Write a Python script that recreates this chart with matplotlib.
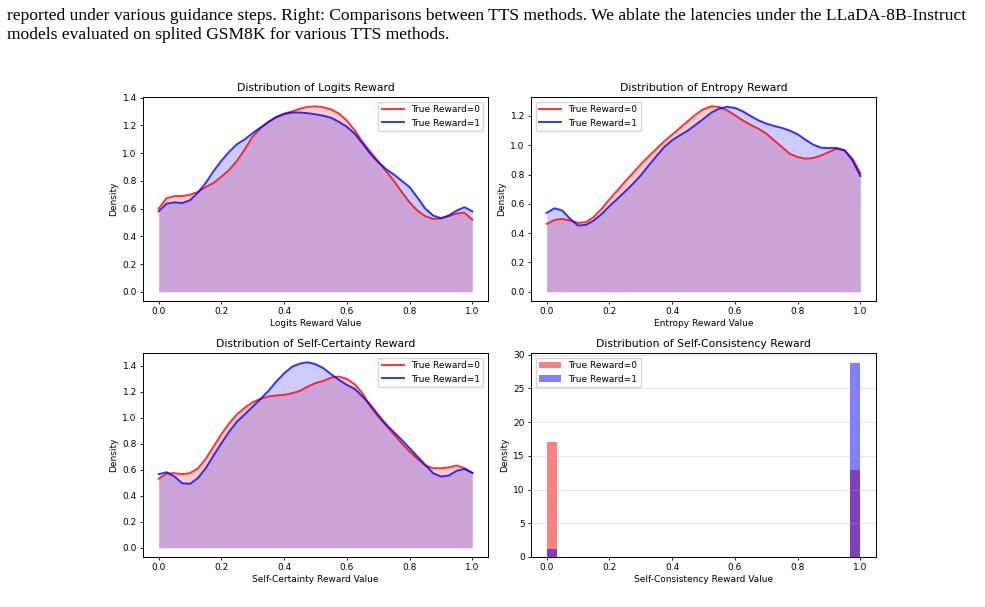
import numpy as np
import matplotlib.pyplot as plt

# reward values the densities were read at (step 0.025)
x_vals = [i / 40 for i in range(41)]

# Logits reward
logits_r0 = [0.60, 0.675, 0.69, 0.69, 0.70, 0.72, 0.755, 0.785, 0.83, 0.88,
             0.945, 1.03, 1.12, 1.18, 1.225, 1.26, 1.285, 1.30, 1.32, 1.333,
             1.338, 1.33, 1.315, 1.285, 1.235, 1.165, 1.08, 1.01, 0.94, 0.87,
             0.80, 0.72, 0.645, 0.585, 0.545, 0.525, 0.53, 0.545, 0.565, 0.57, 0.52]
logits_r1 = [0.58, 0.635, 0.645, 0.64, 0.66, 0.715, 0.785, 0.87, 0.945, 1.01,
             1.065, 1.10, 1.145, 1.185, 1.225, 1.26, 1.282, 1.293, 1.293, 1.288,
             1.28, 1.27, 1.255, 1.225, 1.19, 1.14, 1.07, 0.995, 0.935, 0.885,
             0.845, 0.80, 0.755, 0.68, 0.60, 0.55, 0.53, 0.55, 0.585, 0.61, 0.58]

# Entropy reward
entropy_r0 = [0.463, 0.49, 0.497, 0.486, 0.47, 0.475, 0.51, 0.566, 0.63, 0.69,
              0.753, 0.81, 0.87, 0.924, 0.976, 1.027, 1.072, 1.118, 1.164, 1.21,
              1.246, 1.266, 1.262, 1.239, 1.205, 1.17, 1.14, 1.113, 1.08, 1.034,
              0.988, 0.942, 0.92, 0.908, 0.913, 0.93, 0.954, 0.976, 0.965, 0.908, 0.81]
entropy_r1 = [0.538, 0.57, 0.554, 0.497, 0.452, 0.456, 0.486, 0.53, 0.584, 0.634,
              0.684, 0.737, 0.794, 0.862, 0.926, 0.988, 1.034, 1.068, 1.10, 1.14,
              1.18, 1.223, 1.25, 1.262, 1.255, 1.232, 1.20, 1.17, 1.148, 1.132,
              1.118, 1.10, 1.075, 1.038, 1.004, 0.983, 0.981, 0.981, 0.965, 0.897, 0.79]

# Self-certainty reward
certainty_r0 = [0.53, 0.57, 0.573, 0.565, 0.573, 0.61, 0.683, 0.778, 0.872, 0.957,
                1.026, 1.077, 1.118, 1.144, 1.162, 1.17, 1.175, 1.187, 1.205, 1.238,
                1.265, 1.282, 1.307, 1.315, 1.297, 1.256, 1.187, 1.085, 1.008, 0.939,
                0.872, 0.803, 0.739, 0.683, 0.632, 0.611, 0.611, 0.617, 0.632, 0.611, 0.575]
certainty_r1 = [0.565, 0.58, 0.548, 0.496, 0.491, 0.535, 0.611, 0.709, 0.803, 0.893,
                0.97, 1.026, 1.085, 1.144, 1.205, 1.277, 1.34, 1.39, 1.415, 1.425,
                1.41, 1.38, 1.333, 1.29, 1.251, 1.221, 1.162, 1.098, 1.021, 0.949,
                0.888, 0.829, 0.765, 0.701, 0.637, 0.573, 0.547, 0.555, 0.591, 0.606, 0.575]

# Self-consistency reward: share of samples at 0 and at 1
consistency_vals = [0.0, 1.0]
consistency_r0 = [0.57, 0.43]
consistency_r1 = [0.04, 0.96]

caption = ["reported under various guidance steps. Right: Comparisons between TTS methods. "
           "We ablate the latencies under the LLaDA-8B-Instruct",
           "models evaluated on splited GSM8K for various TTS methods."]

fs = 6.5
fig = plt.figure(figsize=(9.85, 6.07), dpi=100)

fig.text(7 / 985, 1 - 20 / 607, caption[0], family="Liberation Serif", fontsize=12.6)
fig.text(7 / 985, 1 - 39 / 607, caption[1], family="Liberation Serif", fontsize=12.6)

w, h = 345 / 985, 204 / 607
ax_tl = fig.add_axes([143 / 985, 306 / 607, w, h])
ax_tr = fig.add_axes([531 / 985, 306 / 607, w, h])
ax_bl = fig.add_axes([143 / 985, 50 / 607, w, h])
ax_br = fig.add_axes([531 / 985, 50 / 607, w, h])


def kde_panel(ax, y0, y1, name, loc):
    ax.plot(x_vals, y0, color="red", alpha=0.8, lw=1.4, label="True Reward=0")
    ax.fill_between(x_vals, y0, color="red", alpha=0.2, lw=0)
    ax.plot(x_vals, y1, color="blue", alpha=0.8, lw=1.4, label="True Reward=1")
    ax.fill_between(x_vals, y1, color="blue", alpha=0.2, lw=0)
    ax.set_title(f"Distribution of {name} Reward", fontsize=fs * 1.2, pad=4)
    ax.set_xlabel(f"{name} Reward Value", fontsize=fs, labelpad=2)
    ax.set_ylabel("Density", fontsize=fs, labelpad=3)
    ax.tick_params(labelsize=fs, length=2.5, width=0.6, pad=2)
    ax.legend(loc=loc, fontsize=fs, handlelength=2.4)


kde_panel(ax_tl, logits_r0, logits_r1, "Logits", "upper right")
kde_panel(ax_tr, entropy_r0, entropy_r1, "Entropy", "upper left")
kde_panel(ax_bl, certainty_r0, certainty_r1, "Self-Certainty", "upper right")

ax_br.hist(consistency_vals, bins=30, range=(0, 1), weights=consistency_r0, density=True,
           color="red", alpha=0.5, label="True Reward=0")
ax_br.hist(consistency_vals, bins=30, range=(0, 1), weights=consistency_r1, density=True,
           color="blue", alpha=0.5, label="True Reward=1")
ax_br.set_title("Distribution of Self-Consistency Reward", fontsize=fs * 1.2, pad=4)
ax_br.set_xlabel("Self-Consistency Reward Value", fontsize=fs, labelpad=2)
ax_br.set_ylabel("Density", fontsize=fs, labelpad=3)
ax_br.tick_params(labelsize=fs, length=2.5, width=0.6, pad=2)
ax_br.grid(axis="y", alpha=0.3)
ax_br.legend(loc="upper left", fontsize=fs, handlelength=2.4)

for ax in [ax_tl, ax_tr, ax_bl, ax_br]:
    for s in ax.spines.values():
        s.set_linewidth(0.7)

fig.savefig("out.png", dpi=100)
